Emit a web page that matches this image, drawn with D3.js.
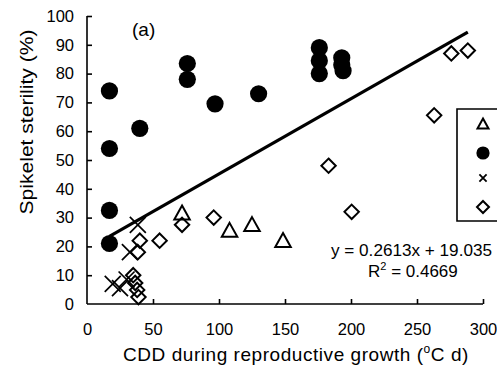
<!DOCTYPE html>
<html><head><meta charset="utf-8">
<script src="https://cdn.jsdelivr.net/npm/d3@7"></script>
<style>body{margin:0;background:#fff}svg{display:block}text{font-family:"Liberation Sans",Arial,sans-serif;fill:#000}</style>
</head><body>
<script>
// ---- data ----
const xTicks = [0, 50, 100, 150, 200, 250, 300];
const yTicks = [0, 10, 20, 30, 40, 50, 60, 70, 80, 90, 100];
const triX = [72, 108, 125, 148.5];
const triY = [31.5, 25.5, 27.5, 22];
const circX = [17, 17, 17, 17, 40, 76, 76, 97, 130, 176, 176, 176, 193, 193, 194];
const circY = [74, 54, 32.5, 21, 61, 83.5, 78, 69.5, 73, 89, 84.5, 80, 85.5, 83, 81];
const crossX = [19.5, 25, 30, 32.5, 38.5];
const crossY = [7, 5.5, 8.5, 18, 27.5];
const diaX = [35, 36.5, 38, 39, 38.5, 40, 55, 72, 96, 183, 200.5, 263, 276, 288.5];
const diaY = [10, 7.3, 4.9, 2.4, 18, 22, 22, 27.5, 30, 48, 32, 65.5, 87, 88];
const slope = 0.2613, intercept = 19.035;
const fitRange = [17, 288.5];
const eqText = "y = 0.2613x + 19.035";
const panelLabel = "(a)";
const xTitle = "CDD during reproductive growth (";
const yTitle = "Spikelet sterility (%)";

const W = 497, H = 379;
const svg = d3.select("body").append("svg").attr("width", W).attr("height", H);
const x = d3.scaleLinear().domain([0, 300]).range([87, 483]);
const y = d3.scaleLinear().domain([0, 100]).range([304, 16]);

// axes
const xAxis = d3.axisBottom(x).tickValues(xTicks).tickSize(-5).tickPadding(14).tickFormat(d3.format("d"));
const yAxis = d3.axisLeft(y).tickValues(yTicks).tickSize(-5).tickPadding(14).tickFormat(d3.format("d"));
const gx = svg.append("g").attr("transform", `translate(0,${y(0)})`).call(xAxis);
const gy = svg.append("g").attr("transform", `translate(${x(0)},0)`).call(yAxis);
[gx, gy].forEach(g => {
  g.attr("font-size", 16.5).attr("font-family", "Liberation Sans, Arial, sans-serif");
  g.select(".domain").attr("stroke", "#000").attr("stroke-width", 1.6);
  g.selectAll(".tick line").attr("stroke", "#000").attr("stroke-width", 1.6);
  g.selectAll(".tick text").attr("fill", "#000");
});
gx.selectAll(".tick").filter(d => d === 0).select("line").remove();
gy.selectAll(".tick").filter(d => d === 0).select("line").remove();
gx.select(".domain").attr("d", `M${x(0)},0H${x(300)}`);
gy.select(".domain").attr("d", `M0,${y(0)}V${y(100)}`);
gy.selectAll(".tick text").attr("x", -13);
gx.selectAll(".tick text").attr("y", 19);

// regression line
svg.append("line")
  .attr("x1", x(fitRange[0])).attr("y1", y(slope * fitRange[0] + intercept))
  .attr("x2", x(fitRange[1])).attr("y2", y(slope * fitRange[1] + intercept))
  .attr("stroke", "#000").attr("stroke-width", 3.2);

// markers
const triPath = (s) => { const h = s * 0.9; return `M0,${-h*0.55}L${s/2},${h*0.45}L${-s/2},${h*0.45}Z`; };
const diaPath = (s) => `M0,${-s}L${s},0L0,${s}L${-s},0Z`;
const crossPath = (s) => `M${-s},${-s}L${s},${s}M${-s},${s}L${s},${-s}`;

const pts = (xs, ys) => xs.map((v, i) => [v, ys[i]]);

svg.append("g").selectAll("path").data(pts(diaX, diaY)).join("path")
  .attr("transform", d => `translate(${x(d[0])},${y(d[1])})`)
  .attr("d", diaPath(7.2)).attr("fill", "none").attr("stroke", "#000").attr("stroke-width", 2);
svg.append("g").selectAll("path").data(pts(triX, triY)).join("path")
  .attr("transform", d => `translate(${x(d[0])},${y(d[1])})`)
  .attr("d", triPath(15.5)).attr("fill", "none").attr("stroke", "#000").attr("stroke-width", 2).attr("stroke-linejoin", "miter");
svg.append("g").selectAll("path").data(pts(crossX, crossY)).join("path")
  .attr("transform", d => `translate(${x(d[0])},${y(d[1])})`)
  .attr("d", crossPath(8)).attr("fill", "none").attr("stroke", "#000").attr("stroke-width", 1.7);
svg.append("g").selectAll("circle").data(pts(circX, circY)).join("circle")
  .attr("cx", d => x(d[0])).attr("cy", d => y(d[1])).attr("r", 8.6).attr("fill", "#000");

// legend (cut off at right edge)
const lg = svg.append("g");
lg.append("path").attr("d", `M${W + 5},109H457V221H${W + 5}`).attr("fill", "none").attr("stroke", "#000").attr("stroke-width", 1.6);
lg.append("path").attr("transform", "translate(483,124)").attr("d", triPath(11)).attr("fill", "none").attr("stroke", "#000").attr("stroke-width", 2);
lg.append("circle").attr("cx", 483).attr("cy", 153).attr("r", 6.6).attr("fill", "#000");
lg.append("path").attr("transform", "translate(483,178)").attr("d", crossPath(3.6)).attr("fill", "none").attr("stroke", "#000").attr("stroke-width", 1.8);
lg.append("path").attr("transform", "translate(483,207)").attr("d", diaPath(6)).attr("fill", "none").attr("stroke", "#000").attr("stroke-width", 2);

// texts
svg.append("text").attr("x", 132).attr("y", 36).attr("font-size", 19).text(panelLabel);
svg.append("text").attr("x", 331).attr("y", 256).attr("font-size", 17)
  .attr("textLength", 161).attr("lengthAdjust", "spacingAndGlyphs").text(eqText);
const r2 = svg.append("text").attr("x", 368).attr("y", 277).attr("font-size", 17);
r2.append("tspan").text("R");
r2.append("tspan").attr("font-size", 11).attr("dy", -7).text("2");
r2.append("tspan").attr("dy", 7).text(" = 0.4669");

const xt = svg.append("text").attr("x", 123).attr("y", 361).attr("font-size", 19).attr("letter-spacing", 0.55);
xt.append("tspan").text(xTitle);
xt.append("tspan").attr("font-size", 12).attr("dy", -8).text("o");
xt.append("tspan").attr("dy", 8).text("C d)");

svg.append("text").attr("transform", "translate(33,122) rotate(-90)").attr("text-anchor", "middle").attr("font-size", 18.5)
  .attr("textLength", 185).attr("lengthAdjust", "spacingAndGlyphs").text(yTitle);
</script>
</body></html>
